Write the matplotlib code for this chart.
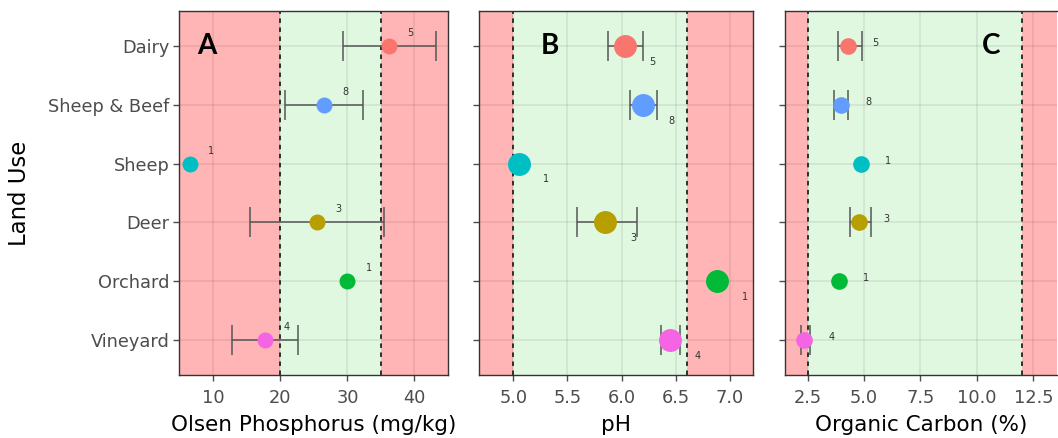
import matplotlib
matplotlib.use("Agg")
import matplotlib.pyplot as plt
import numpy as np

plt.rcParams['font.family'] = ['DejaVu Sans']

land_use = ["Dairy", "Sheep & Beef", "Sheep", "Deer", "Orchard", "Vineyard"]
counts = [5, 8, 1, 3, 1, 4]
colors = ["#F8766D", "#619CFF", "#00BFC4", "#B79F00", "#00BA38", "#F564E3"]

# Olsen P
p_mean = [36.2, 26.5, 6.5, 25.4, 30.0, 17.7]
p_lo = [29.4, 20.7, np.nan, 15.5, np.nan, 12.8]
p_hi = [43.2, 32.4, np.nan, 35.5, np.nan, 22.7]
# pH
ph_mean = [6.03, 6.20, 5.05, 5.85, 6.88, 6.45]
ph_lo = [5.87, 6.08, np.nan, 5.59, np.nan, 6.36]
ph_hi = [6.20, 6.33, np.nan, 6.14, np.nan, 6.54]
# Organic carbon
oc_mean = [4.30, 3.98, 4.85, 4.80, 3.89, 2.35]
oc_lo = [3.83, 3.68, np.nan, 4.36, np.nan, 2.20]
oc_hi = [4.89, 4.30, np.nan, 5.30, np.nan, 2.60]

panels = [
    dict(mean=p_mean, lo=p_lo, hi=p_hi, xlim=(4.9, 45.0), ticks=[10, 20, 30, 40],
         ticklabels=["10", "20", "30", "40"], opt=(20, 35), label="Olsen Phosphorus (mg/kg)",
         letter="A", letter_x=9.0, ms=11.5, dx=3.2, dy=0.22),
    dict(mean=ph_mean, lo=ph_lo, hi=ph_hi, xlim=(4.686, 7.215), ticks=[5.0, 5.5, 6.0, 6.5, 7.0],
         ticklabels=["5.0", "5.5", "6.0", "6.5", "7.0"], opt=(5.0, 6.6), label="pH",
         letter="B", letter_x=5.34, ms=16.5, dx=0.255, dy=-0.27),
    dict(mean=oc_mean, lo=oc_lo, hi=oc_hi, xlim=(1.5, 13.55), ticks=[2.5, 5.0, 7.5, 10.0, 12.5],
         ticklabels=["2.5", "5.0", "7.5", "10.0", "12.5"], opt=(2.5, 12.0), label="Organic Carbon (%)",
         letter="C", letter_x=10.65, ms=12, dx=1.2, dy=0.05),
]

W, H = 1058, 438
fig = plt.figure(figsize=(W / 100, H / 100), dpi=100)
lefts = [179, 479.3, 785]
rights = [448, 753.3, 1057]
top, bottom = 11, 375

ypos = np.arange(len(land_use))[::-1] + 1  # Dairy top

red = "#FFB5B5"
green = "#E0F8E0"

for i, pdct in enumerate(panels):
    ax = fig.add_axes([lefts[i] / W, 1 - bottom / H, (rights[i] - lefts[i]) / W, (bottom - top) / H])
    x0, x1 = pdct["xlim"]
    lo_opt, hi_opt = pdct["opt"]
    ax.set_xlim(x0, x1)
    ax.set_ylim(0.4, 6.6)
    ax.axvspan(x0, lo_opt, color=red, zorder=0, lw=0)
    ax.axvspan(lo_opt, hi_opt, color=green, zorder=0, lw=0)
    ax.axvspan(hi_opt, x1, color=red, zorder=0, lw=0)
    for t in pdct["ticks"]:
        ax.axvline(t, color="#000000", alpha=0.08, lw=1.2, zorder=1)
    for y in ypos:
        ax.axhline(y, color="#000000", alpha=0.08, lw=1.2, zorder=1)
    ax.axvline(lo_opt, color="#222222", ls=(0, (2.5, 2.5)), lw=1.3, zorder=2)
    ax.axvline(hi_opt, color="#222222", ls=(0, (2.5, 2.5)), lw=1.3, zorder=2)

    for j in range(len(land_use)):
        m = pdct["mean"][j]
        lo = pdct["lo"][j]
        hi = pdct["hi"][j]
        y = ypos[j]
        if not np.isnan(lo):
            ax.errorbar(m, y, xerr=[[m - lo], [hi - m]], fmt="none", ecolor="#555555",
                        elinewidth=1.1, capsize=10.5, capthick=1.1, zorder=3)
        ax.plot(m, y, "o", color=colors[j], ms=pdct["ms"], mew=0, zorder=4)
        ax.text(m + pdct["dx"], y + pdct["dy"], str(counts[j]), fontsize=7,
                color="#333333", ha="center", va="center", zorder=5)

    ax.text(pdct["letter_x"], ypos[0], pdct["letter"], fontsize=20, fontweight="bold",
            family=["Lato", "DejaVu Sans"], ha="center", va="center", color="black", zorder=6)

    ax.set_xticks(pdct["ticks"])
    ax.set_xticklabels(pdct["ticklabels"])
    ax.set_yticks(ypos)
    if i == 0:
        ax.set_yticklabels(land_use)
        ax.set_ylabel("Land Use", fontsize=16.4, color="black", labelpad=12)
    else:
        ax.set_yticklabels([])
    ax.tick_params(axis="both", labelsize=12.8, colors="#4D4D4D", length=4, width=1,
                   pad=3)
    ax.tick_params(axis="x", pad=6)
    ax.set_xlabel(pdct["label"], fontsize=15.5, color="black", labelpad=6)
    for s in ax.spines.values():
        s.set_color("#333333")
        s.set_linewidth(1.0)
    if i == 2:
        ax.spines["right"].set_visible(False)

fig.savefig("out.png", dpi=100)
